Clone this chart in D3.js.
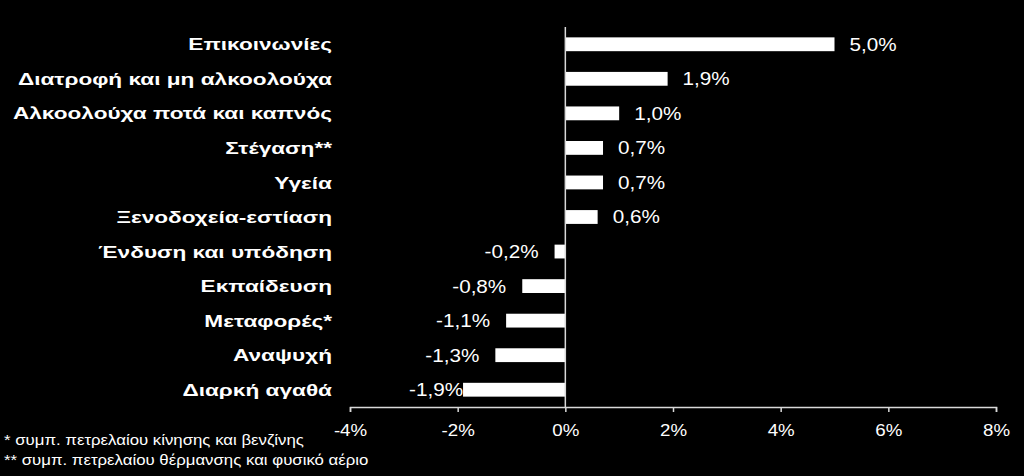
<!DOCTYPE html>
<html><head><meta charset="utf-8">
<script src="https://cdn.jsdelivr.net/npm/d3@7"></script>
<style>
html,body{margin:0;padding:0;background:#000;}
svg{display:block;}
</style></head>
<body>
<svg id="chart" width="1024" height="476"></svg>
<script>
const categories = ["Επικοινωνίες","Διατροφή και μη αλκοολούχα","Αλκοολούχα ποτά και καπνός","Στέγαση**","Υγεία","Ξενοδοχεία-εστίαση","Ένδυση και υπόδηση","Εκπαίδευση","Μεταφορές*","Αναψυχή","Διαρκή αγαθά"];
const values = [5.0, 1.9, 1.0, 0.7, 0.7, 0.6, -0.2, -0.8, -1.1, -1.3, -1.9];
const valueLabels = ["5,0%","1,9%","1,0%","0,7%","0,7%","0,6%","-0,2%","-0,8%","-1,1%","-1,3%","-1,9%"];
const tickValues = [-4, -2, 0, 2, 4, 6, 8];
const tickLabels = ["-4%","-2%","0%","2%","4%","6%","8%"];
const footnotes = ["* συμπ. πετρελαίου κίνησης και βενζίνης","** συμπ. πετρελαίου θέρμανσης και φυσικό αέριο"];

const FONT = "Liberation Sans, Arial, sans-serif";
const svg = d3.select("#chart");
svg.append("rect").attr("width",1024).attr("height",476).attr("fill","#000");

const m = {left:350, right:996, top:27, bottom:407};
const x = d3.scaleLinear().domain([-4, 8]).range([m.left, m.right]);
const y = d3.scaleBand().domain(categories).range([m.top, m.bottom]).paddingInner(0.6).paddingOuter(0.3);

// bars
svg.append("g").selectAll("rect").data(values).join("rect")
  .attr("x", d => x(Math.min(0, d)))
  .attr("y", (d,i) => y(categories[i]))
  .attr("width", d => Math.abs(x(d) - x(0)))
  .attr("height", y.bandwidth())
  .attr("fill", "#fff");

// zero line
svg.append("line").attr("x1", x(0)).attr("x2", x(0)).attr("y1", m.top).attr("y2", m.bottom)
  .attr("stroke", "#d9d9d9").attr("stroke-width", 1.5);

// x axis
const axis = d3.axisBottom(x).tickValues(tickValues).tickSize(5).tickPadding(12)
  .tickFormat((d,i) => tickLabels[i]);
const gx = svg.append("g").attr("transform", `translate(0,${m.bottom})`).call(axis);
gx.select(".domain").attr("stroke", "#d9d9d9").attr("stroke-width", 1.5);
gx.selectAll(".tick line").attr("stroke", "#d9d9d9").attr("stroke-width", 1.5);
gx.selectAll(".tick text").attr("fill", "#fff").attr("font-family", FONT).attr("font-size", 17)
  .attr("transform", "scale(1.1,1)");

// category labels
svg.append("g").selectAll("text").data(categories).join("text")
  .attr("transform", d => `translate(332,${y(d) + y.bandwidth()/2}) scale(1.33,1)`)
  .attr("dy", "0.36em")
  .attr("text-anchor", "end")
  .attr("font-family", FONT)
  .attr("font-weight", "bold")
  .attr("font-size", 17)
  .attr("fill", "#fff")
  .text(d => d);

// value labels
svg.append("g").selectAll("text").data(values).join("text")
  .attr("transform", (d,i) => {
    let px;
    if (d >= 0) px = x(d) + 15;
    else px = x(d) - ((i === values.length - 1) ? 0 : 16);
    return `translate(${px},${y(categories[i]) + y.bandwidth()/2}) scale(1.15,1)`;
  })
  .attr("dy", "0.36em")
  .attr("text-anchor", d => d >= 0 ? "start" : "end")
  .attr("font-family", FONT)
  .attr("font-size", 18)
  .attr("fill", "#fff")
  .text((d,i) => valueLabels[i]);

// footnotes
svg.append("g").selectAll("text").data(footnotes).join("text")
  .attr("transform", (d,i) => `translate(4,${445 + i*20}) scale(1.2,1)`)
  .attr("font-family", FONT)
  .attr("font-size", 14)
  .attr("fill", "#fff")
  .text(d => d);
</script>
</body></html>
